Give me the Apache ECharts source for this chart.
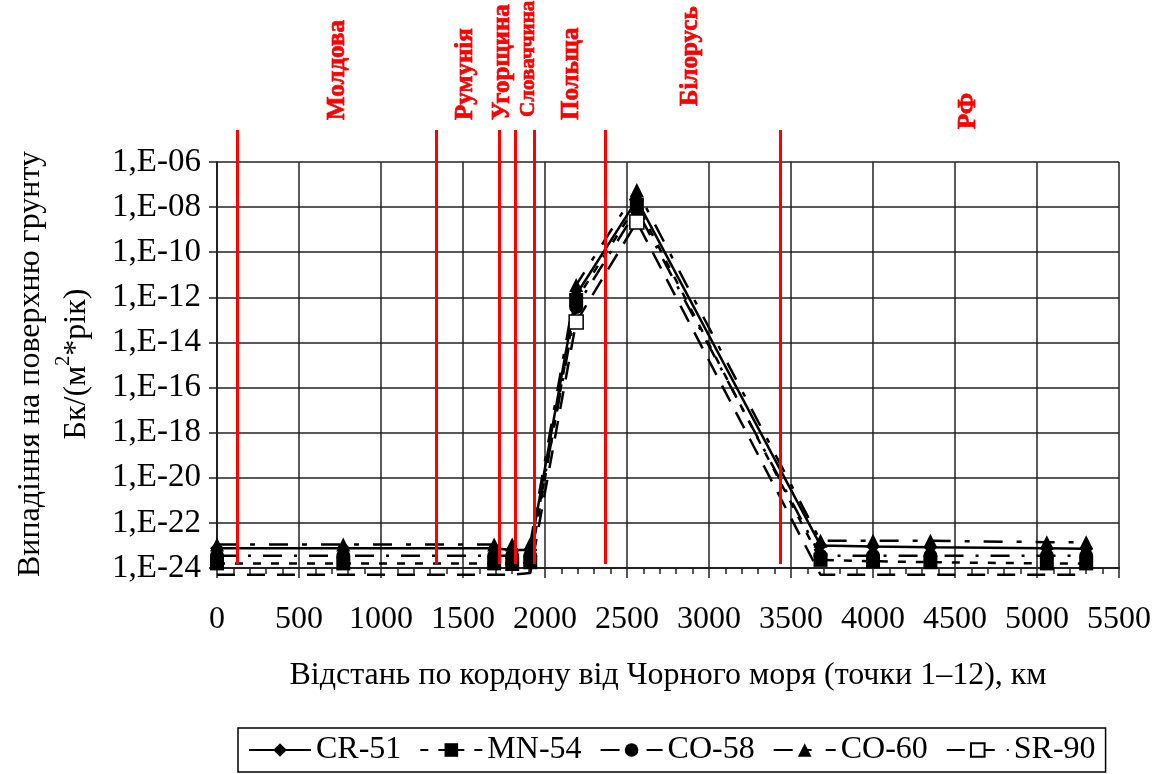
<!DOCTYPE html>
<html>
<head>
<meta charset="utf-8">
<script src="https://cdn.jsdelivr.net/npm/echarts@6/dist/echarts.min.js"></script>
<style>
  html, body { margin: 0; padding: 0; background: #fff; }
  #chart { width: 1166px; height: 774px; }
</style>
</head>
<body>
<div id="chart"></div>
<script>
// точки вздовж кордону, км від Чорного моря
const distanceKm = [0, 770, 1690, 1800, 1910, 2190, 2560, 3680, 4000, 4350, 5060, 5300];

// випадіння на поверхню грунту, Бк/(м2*рік)
const cr51 = [7.6e-24, 7.6e-24, 7.6e-24, 6.3e-24, 6.3e-24, 1.3e-12, 2.1e-8, 1.0e-23, 8.9e-24, 8.3e-24, 7.6e-24, 7.1e-24];
const mn54 = [1.6e-24, 1.6e-24, 1.6e-24, 1.5e-24, 1.8e-24, 7.6e-13, 1.3e-8, 2.3e-24, 2.0e-24, 1.8e-24, 1.6e-24, 1.6e-24];
const co58 = [3.5e-24, 3.5e-24, 3.5e-24, 3.5e-24, 3.5e-24, 3.7e-13, 7.4e-9, 3.5e-24, 3.5e-24, 3.5e-24, 3.5e-24, 3.5e-24];
const co60 = [1.1e-23, 1.1e-23, 1.1e-23, 1.1e-23, 1.2e-23, 3.5e-12, 5.8e-8, 1.6e-23, 1.6e-23, 1.6e-23, 1.4e-23, 1.4e-23];
const sr90 = [5e-25, 5e-25, 5e-25, 5e-25, 6e-25, 8.1e-14, 2.2e-9, 5e-25, 5e-25, 5e-25, 5e-25, 5e-25];

// кордони країн (червоні лінії) та підписи, км
const borderKm = [126, 1335, 1720, 1817, 1937, 2370, 3437];
const countries = ['Молдова', 'Румунія', 'Угорщина', 'Словаччина', 'Польща', 'Білорусь', 'РФ'];
const countryKm = [734, 1514, 1740, 1898, 2160, 2886, 4581];

const FONT = "'Liberation Serif', 'Times New Roman', serif";

const chart = echarts.init(document.getElementById('chart'));

function lineSeries(name, values, symbol, dash, extra) {
  return Object.assign({
    name: name,
    type: 'line',
    xAxisIndex: 0,
    yAxisIndex: 0,
    data: distanceKm.map((x, i) => [x, Math.log10(values[i])]),
    symbol: symbol,
    symbolSize: v => (v[1] < -24 ? 0 : 14),
    lineStyle: { color: '#000', width: 2.5, type: dash },
    itemStyle: { color: '#000' },
    z: 3
  }, extra || {});
}

const option = {
  backgroundColor: '#fff',
  animation: false,
  textStyle: { fontFamily: FONT, color: '#000' },
  grid: [
    { left: 217, right: 47, top: 162, bottom: 206 },
    { left: 217, right: 47, top: 130, bottom: 210 }
  ],
  xAxis: [{
    type: 'value', gridIndex: 0, min: 0, max: 5500, interval: 500,
    name: 'Відстань по кордону від Чорного моря (точки 1–12), км',
    nameLocation: 'middle', nameGap: 92,
    nameTextStyle: { fontSize: 32, fontFamily: FONT, color: '#000' },
    axisLine: { lineStyle: { color: '#222', width: 2 } },
    axisTick: { length: 10, lineStyle: { color: '#222', width: 1.5 } },
    minorTick: { show: true, splitNumber: 5, length: 6, lineStyle: { color: '#222', width: 1.5 } },
    splitLine: { show: true, lineStyle: { color: '#222', width: 1.5 } },
    axisLabel: { fontSize: 32, fontFamily: FONT, color: '#000', margin: 36, formatter: v => String(v) }
  }, {
    type: 'value', gridIndex: 1, min: 0, max: 5500, show: false
  }],
  yAxis: [{
    type: 'value', gridIndex: 0, min: -24, max: -6, interval: 2,
    axisLine: { show: true, lineStyle: { color: '#222', width: 2 } },
    axisTick: { show: true, length: 8, lineStyle: { color: '#222', width: 1.5 } },
    splitLine: { show: true, lineStyle: { color: '#222', width: 1.5 } },
    axisLabel: {
      fontSize: 33, fontFamily: FONT, color: '#000', margin: 16,
      formatter: v => '1,E' + (v < 0 ? '-' : '+') + String(Math.abs(v)).padStart(2, '0')
    }
  }, {
    type: 'value', gridIndex: 1, min: 0, max: 1, show: false
  }],
  legend: {
    left: 238, top: 728,
    orient: 'horizontal',
    itemWidth: 62, itemHeight: 17, itemGap: 18,
    padding: [6, 10],
    borderColor: '#000', borderWidth: 1.5,
    textStyle: { fontSize: 32, fontFamily: FONT, color: '#000' },
    data: ['CR-51', 'MN-54', 'CO-58', 'CO-60', 'SR-90']
  },
  series: [
    lineSeries('CR-51', cr51, 'diamond', 'solid'),
    lineSeries('MN-54', mn54, 'rect', [8, 10]),
    lineSeries('CO-58', co58, 'circle', [19, 12, 3, 12]),
    lineSeries('CO-60', co60, 'triangle', [19, 14, 5, 14]),
    lineSeries('SR-90', sr90, 'rect', [18, 12], {
      clip: false,
      itemStyle: { color: '#fff', borderColor: '#000', borderWidth: 1.5 }
    }),
    {
      type: 'line', xAxisIndex: 1, yAxisIndex: 1, data: [], z: 10, silent: true,
      markLine: {
        symbol: 'none', silent: true, animation: false,
        label: { show: false },
        lineStyle: { color: '#ff0000', width: 3, type: 'solid' },
        data: borderKm.map(v => ({ xAxis: v }))
      }
    }
  ]
};

chart.setOption(option);

// підписи країн та назва осі Y
const labelBottom = [120, 120, 120, 117, 120, 106, 129];
const labelSize = [25, 25, 25, 21, 25, 25, 25];
const graphics = countries.map((name, i) => ({
  type: 'text',
  x: chart.convertToPixel({ xAxisIndex: 0 }, countryKm[i]),
  y: labelBottom[i],
  rotation: Math.PI / 2,
  style: {
    text: name,
    fontSize: labelSize[i],
    fontWeight: 'bold',
    fontFamily: 'Liberation Serif',
    fill: '#ff0000',
    stroke: '#ff0000',
    lineWidth: 0.7,
    textAlign: 'left', align: 'left',
    textVerticalAlign: 'middle', verticalAlign: 'middle'
  }
}));
graphics.push({
  type: 'text',
  x: 54, y: 364,
  rotation: Math.PI / 2,
  style: {
    text: 'Випадіння на поверхню грунту\nБк/(м{sup|2}*рік)',
    fontSize: 32,
    fontFamily: 'Liberation Serif',
    fill: '#000',
    lineHeight: 46,
    textAlign: 'center', align: 'center',
    textVerticalAlign: 'middle', verticalAlign: 'middle',
    rich: { sup: { fontSize: 20, fontFamily: 'Liberation Serif', verticalAlign: 'top', lineHeight: 46 } }
  }
});
chart.setOption({ graphic: graphics });
</script>
</body>
</html>
